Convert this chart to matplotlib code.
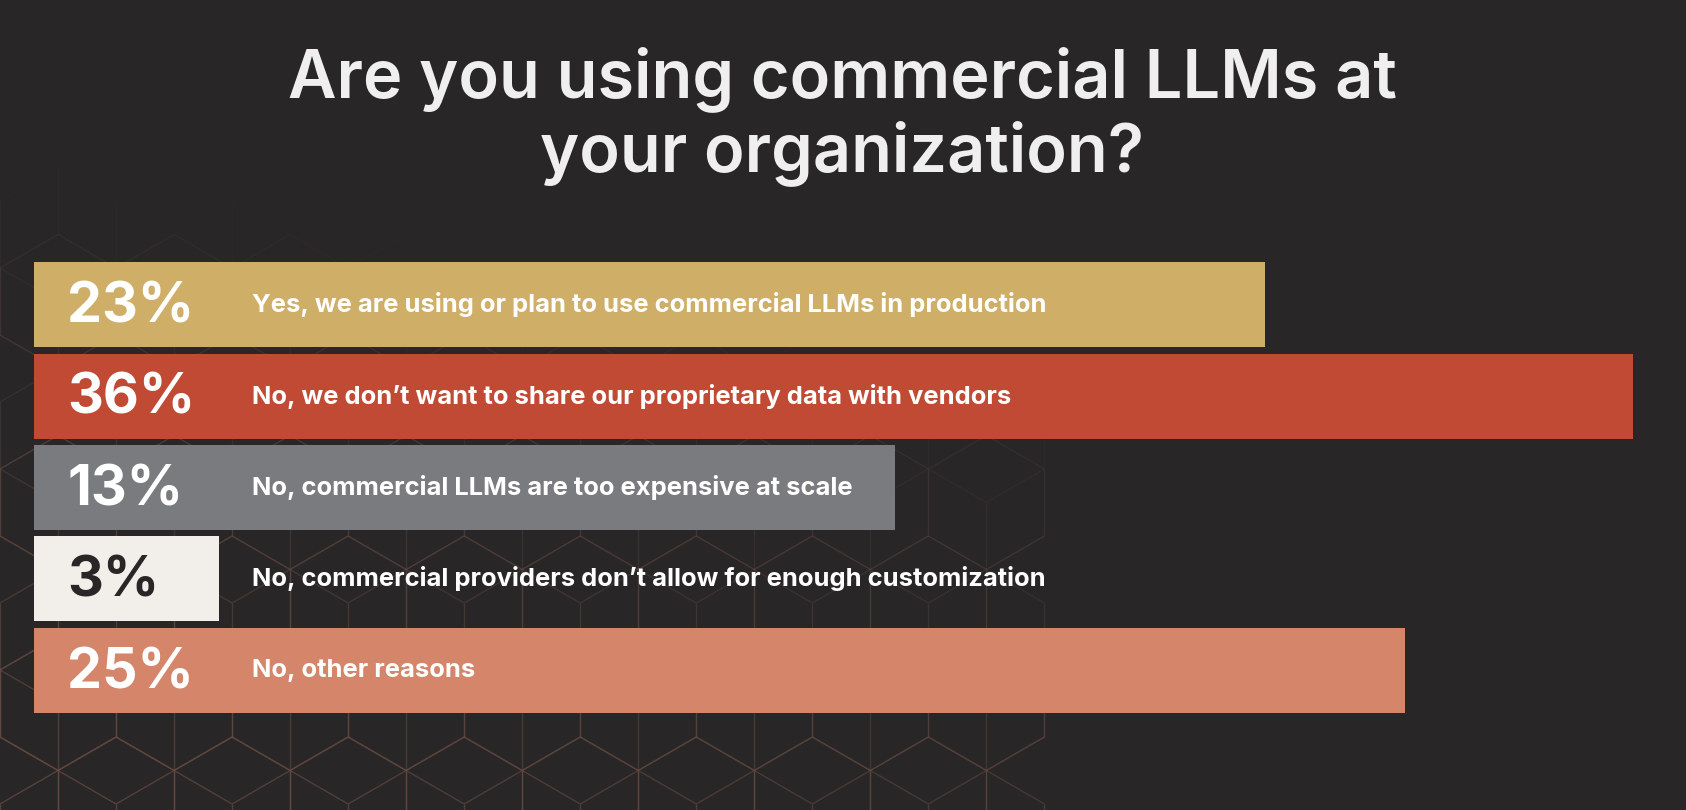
import numpy as np
import matplotlib
matplotlib.use('Agg')
import matplotlib.pyplot as plt
from matplotlib.collections import LineCollection

# survey answers
answers = ['Yes, we are using or plan to use commercial LLMs in production',
           'No, we don\u2019t want to share our proprietary data with vendors',
           'No, commercial LLMs are too expensive at scale',
           'No, commercial providers don\u2019t allow for enough customization',
           'No, other reasons']
pct = [23, 36, 13, 3, 25]
# bar lengths as drawn in the picture (not proportional to pct), % of axis width
bar_len = [74.5, 96.8, 52.1, 11.2, 83.0]
colors = ['#cfae68', '#c04a33', '#7a7b7f', '#f2eeea', '#d4856a']
pct_colors = ['white', 'white', 'white', '#2a2627', 'white']

title = 'Are you using commercial LLMs at\nyour organization?'

bg = '#282627'
W, H = 1686, 810
fig = plt.figure(figsize=(W / 100, H / 100), dpi=100, facecolor=bg)

# decorative hex (cube) pattern in the background, lower left only
bgax = fig.add_axes([0, 0, 1, 1])
bgax.set_xlim(0, W)
bgax.set_ylim(H, 0)
bgax.axis('off')
s = 67
w = np.sqrt(3) * s
segs = []
for j in range(-1, int(H / (1.5 * s)) + 3):
    for i in range(-1, int(1100 / w) + 1):
        cx = i * w + (j % 2) * w / 2
        cy = j * 1.5 * s
        ang = np.radians(np.arange(6) * 60 + 30)
        vx = cx + s * np.cos(ang)
        vy = cy + s * np.sin(ang)
        for k in range(6):
            segs.append([(vx[k], vy[k]), (vx[(k + 1) % 6], vy[(k + 1) % 6])])
        for k in (1, 3, 5):
            segs.append([(cx, cy), (vx[k], vy[k])])
seg_cols = []
keep = []
for sg in segs:
    mx = (sg[0][0] + sg[1][0]) / 2
    my = (sg[0][1] + sg[1][1]) / 2
    if max(sg[0][0], sg[1][0]) > 1100:
        continue
    fade = 1.0 - 0.55 * mx / W - 1.2 * (H - my) / H
    fade = min(max(fade, 0), 1)
    keep.append(sg)
    seg_cols.append((0.42, 0.31, 0.27, 0.7 * fade))
bgax.add_collection(LineCollection(keep, colors=seg_cols, linewidths=1.0))

# bars
ax = fig.add_axes([34 / W, 1 - 716 / H, 1 - 34 / W, (716 - 259) / H])
ax.set_facecolor('none')
y = np.arange(len(pct))
ax.barh(y, bar_len, height=0.93, color=colors, left=0)
ax.set_xlim(0, 100)
ax.set_ylim(len(pct) - 0.5, -0.5)
ax.axis('off')

for i in range(len(pct)):
    ax.text(2.0, y[i] + 0.03, str(pct[i]) + '%', color=pct_colors[i], fontsize=40,
            fontweight='bold', family='Inter', va='center', ha='left')
    ax.text(13.17, y[i], answers[i], color='white', fontsize=18.4,
            fontweight='bold', family='Inter', va='center', ha='left')

fig.text(842 / W, 1 - 116 / H, title, color='#f0efef', fontsize=48, fontweight='semibold',
         family='Inter', ha='center', va='center', linespacing=1.15)

fig.savefig('out.png', dpi=100, facecolor=bg)
